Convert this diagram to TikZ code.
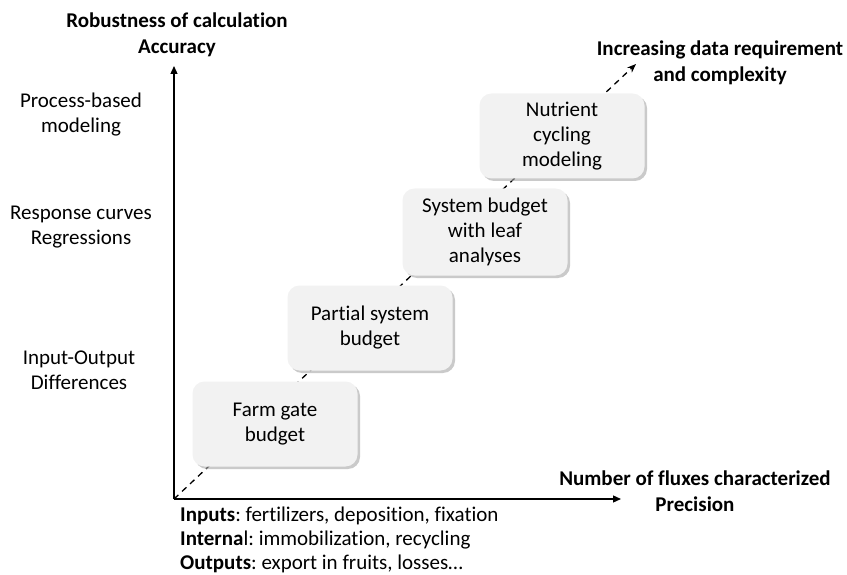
\documentclass[tikz,border=0pt]{standalone}
\usepackage{fontspec}
\setmainfont{Carlito}[Ligatures=NoCommon]
\usetikzlibrary{arrows.meta,shadows}
\begin{document}
\frenchspacing
\begin{tikzpicture}[x=1pt,y=-1pt,
  every node/.style={font=\fontsize{21}{25}\selectfont, inner sep=0pt},
  stepbox/.style={draw=none, fill=black!5, rounded corners=12pt, minimum width=165pt, minimum height=85pt, align=center,
     drop shadow={shadow xshift=2.5pt, shadow yshift=-2.5pt, fill=black!35, opacity=0.6}},
  axis/.style={line width=1.3pt, -{Triangle[length=8pt,width=7pt]}},
  title/.style={font=\fontsize{21}{26}\selectfont\bfseries, align=center},
  lbl/.style={align=center}]
\useasboundingbox (0,0) rectangle (847,575);
\coordinate (O) at (174,499);
\coordinate (Ytop) at (174,66);
\coordinate (Xend) at (621,499);
\coordinate (Dend) at (636,64);
\draw[line width=1.3pt, dash pattern=on 6pt off 5pt, -{Stealth[length=9pt,width=7pt]}] (O) -- (Dend);
\draw[axis] (O) -- (Ytop);
\draw[axis] (O) -- (Xend);
\node[stepbox] (b1) at (275,424) {Farm gate\\budget};
\node[stepbox] (b2) at (370,328) {Partial system\\budget};
\node[stepbox, minimum height=87pt] (b3) at (485,232) {System budget\\with leaf\\analyses};
\node[stepbox] (b4) at (562,136) {Nutrient\\cycling\\modeling};
\node[title] (ytitle) at (177,35) {Robustness of calculation\\Accuracy};
\node[title] (dtitle) at (720,63) {Increasing data requirement\\and complexity};
\node[title] (xtitle) at (695,491) {Number of fluxes characterized\\Precision};
\node[lbl] (l1) at (81,115) {Process-based\\modeling};
\node[lbl] (l2) at (81,227) {Response curves\\Regressions};
\node[lbl] (l3) at (79,370) {Input-Output\\Differences};
\node[align=left, anchor=north west, font=\fontsize{21}{24}\selectfont] (bottom) at (180,507)
  {\textbf{Inputs}: fertilizers, deposition, fixation\\\textbf{Interna}l: immobilization, recycling\\\textbf{Outputs}: export in fruits, losses…};
\end{tikzpicture}
\end{document}
